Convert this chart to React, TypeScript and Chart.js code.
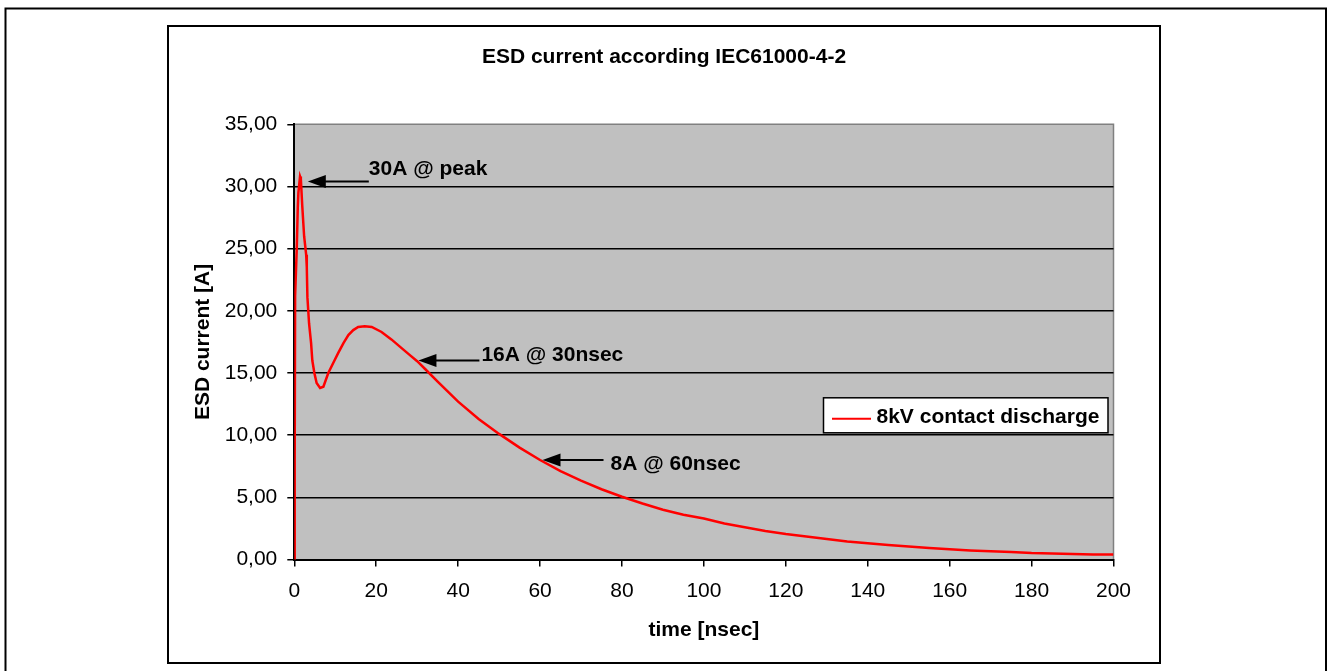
import React, { useEffect, useRef } from 'react';
import { Chart, registerables } from 'chart.js';
Chart.register(...registerables);

// ESD waveform (time in nsec, current in A)
const times = [
  0, 0.1, 0.2, 0.6, 0.85, 1.0, 1.4, 1.6, 1.95, 2.4, 2.9, 3.05, 3.2, 3.6, 4.1, 4.4, 4.9, 5.45,
  6.3, 7.1, 8.3, 9.5, 10.7, 12, 13.2, 14.4, 15.6, 17.2, 18.9, 21.3, 23.7, 26.2, 28, 30, 32,
  35, 40, 45, 50, 55, 60, 65, 70, 75, 80, 85, 90, 95, 100, 105, 110, 115, 120, 125, 130,
  135, 140, 145, 150, 155, 160, 165, 170, 175, 180, 185, 190, 195, 200,
];
const current = [
  0, 8, 21.2, 25, 28.3, 29.5, 30.8, 30.6, 28.4, 26, 24.5, 23.5, 21.1, 19.0, 17.4, 16.0, 15.0, 14.2,
  13.8, 13.9, 15.0, 15.8, 16.6, 17.4, 18.05, 18.45, 18.7, 18.75, 18.7, 18.3, 17.7, 17.0, 16.5, 15.95, 15.3,
  14.3, 12.7, 11.3, 10.1, 9.0, 8.0, 7.1, 6.35, 5.65, 5.05, 4.5, 4.0, 3.6, 3.3, 2.9, 2.6, 2.3, 2.05, 1.85, 1.65,
  1.45, 1.3, 1.17, 1.05, 0.93, 0.82, 0.73, 0.66, 0.6, 0.52, 0.48, 0.44, 0.41, 0.4,
];
const seriesLabel = '8kV contact discharge';

// arrow annotations: text and the point the arrow points at
const noteTexts = ['30A @ peak', '16A @ 30nsec', '8A @ 60nsec'];
const noteTimes = [3.3, 30.3, 60.6];
const noteValues = [30.4, 16.0, 8.0];

const FONT = '"Liberation Sans", Arial, sans-serif';
// pixel offsets of each label from the arrow tail
const noteOffsets = [
  { dx: 0, dy: -6 },
  { dx: 2, dy: 0 },
  { dx: 7, dy: 10 },
];

const framePlugin = {
  id: 'frame',
  beforeDraw(chart: any) {
    const { ctx, chartArea: a } = chart;
    ctx.save();
    ctx.fillStyle = '#fff';
    ctx.fillRect(0, 0, chart.width, chart.height);
    ctx.strokeStyle = '#000';
    ctx.lineWidth = 2;
    ctx.strokeRect(5.5, 8.5, 1320.5, 700);
    ctx.strokeRect(168, 26, 992, 637);
    ctx.fillStyle = '#c0c0c0';
    ctx.fillRect(a.left, a.top, a.right - a.left, a.bottom - a.top);
    ctx.strokeStyle = '#808080';
    ctx.lineWidth = 1.5;
    ctx.beginPath();
    ctx.moveTo(a.left, a.top);
    ctx.lineTo(a.right, a.top);
    ctx.lineTo(a.right, a.bottom);
    ctx.stroke();
    ctx.restore();
  },
  afterDraw(chart: any) {
    const { ctx, chartArea: a } = chart;
    const xs = chart.scales.x;
    const ys = chart.scales.y;
    ctx.save();
    ctx.font = `bold 21px ${FONT}`;
    ctx.fillStyle = '#000';
    ctx.strokeStyle = '#000';
    noteTexts.forEach((txt, i) => {
      const tx = xs.getPixelForValue(noteTimes[i]);
      const ty = ys.getPixelForValue(noteValues[i]);
      const tail = tx + 61;
      ctx.lineWidth = 2;
      ctx.beginPath();
      ctx.moveTo(tx + 16, ty);
      ctx.lineTo(tail, ty);
      ctx.stroke();
      ctx.beginPath();
      ctx.moveTo(tx, ty);
      ctx.lineTo(tx + 18, ty - 6.5);
      ctx.lineTo(tx + 18, ty + 6.5);
      ctx.closePath();
      ctx.fill();
      ctx.textBaseline = 'alphabetic';
      ctx.textAlign = 'left';
      ctx.fillText(txt, tail + noteOffsets[i].dx, ty + noteOffsets[i].dy);
    });

    // legend box
    const ds = chart.data.datasets[0];
    const bx = a.right - 290;
    const by = a.top + 273.5;
    ctx.fillStyle = '#fff';
    ctx.fillRect(bx, by, 284.5, 35);
    ctx.lineWidth = 1.5;
    ctx.strokeRect(bx, by, 284.5, 35);
    ctx.strokeStyle = ds.borderColor;
    ctx.lineWidth = 2;
    ctx.beginPath();
    ctx.moveTo(bx + 8.5, by + 21);
    ctx.lineTo(bx + 47.5, by + 21);
    ctx.stroke();
    ctx.fillStyle = '#000';
    ctx.textBaseline = 'middle';
    ctx.fillText(ds.label, bx + 53, by + 19);
    ctx.restore();
  },
};

export default function App() {
  const canvasRef = useRef<HTMLCanvasElement>(null);
  const chartRef = useRef<Chart | null>(null);

  useEffect(() => {
    if (!canvasRef.current) return;
    if (chartRef.current) chartRef.current.destroy();

    chartRef.current = new Chart(canvasRef.current, {
      type: 'line',
      data: {
        datasets: [{
          label: seriesLabel,
          data: times.map((t, i) => ({ x: t, y: current[i] })),
          borderColor: '#ff0000',
          borderWidth: 2.5,
          pointRadius: 0,
          tension: 0,
          fill: false,
        }],
      },
      options: {
        responsive: false,
        animation: false,
        devicePixelRatio: 1,
        layout: { padding: { left: 168, top: 26, right: 167, bottom: 8.3 } },
        plugins: {
          legend: { display: false },
          tooltip: { enabled: false },
          title: {
            display: true,
            text: 'ESD current according IEC61000-4-2',
            color: '#000',
            font: { family: FONT, size: 21, weight: 'bold' },
            padding: { top: 19, bottom: 54.1 },
          },
        },
        scales: {
          x: {
            type: 'linear',
            min: 0,
            max: 200,
            afterFit: (s: any) => { s.height = 103.2; },
            ticks: {
              stepSize: 20,
              autoSkip: false,
              maxRotation: 0,
              color: '#000',
              padding: 12,
              font: { family: FONT, size: 21 },
            },
            grid: { drawOnChartArea: false, drawTicks: true, tickLength: 7, color: '#000', tickColor: '#000', lineWidth: 1.5 },
            border: { display: true, color: '#000', width: 2 },
            title: {
              display: true,
              text: 'time [nsec]',
              color: '#000',
              font: { family: FONT, size: 21, weight: 'bold' },
              padding: { top: 0, bottom: 20.1 },
            },
          },
          y: {
            min: 0,
            max: 35,
            afterFit: (s: any) => { s.width = 126.3; },
            ticks: {
              stepSize: 5,
              color: '#000',
              padding: 10,
              font: { family: FONT, size: 21 },
              callback: (v: any) => Number(v).toFixed(2).replace('.', ','),
            },
            grid: {
              color: (c: any) => (c.tick && (c.tick.value === 35 || c.tick.value === 0) ? 'rgba(0,0,0,0)' : '#000'),
              tickColor: '#000',
              tickLength: 7,
              lineWidth: 1.5,
            },
            border: { display: true, color: '#000', width: 2 },
            title: {
              display: true,
              text: 'ESD current [A]',
              color: '#000',
              font: { family: FONT, size: 21, weight: 'bold' },
              padding: { top: 22.7, bottom: 0 },
            },
          },
          // empty right-hand spacer so the plot ends where the reference's does
          spacer: {
            type: 'linear',
            position: 'right',
            afterFit: (s: any) => { s.width = 46.5; },
            ticks: { display: false },
            grid: { display: false },
            border: { display: false },
          },
        },
      },
      plugins: [framePlugin],
    } as any);

    return () => {
      if (chartRef.current) {
        chartRef.current.destroy();
        chartRef.current = null;
      }
    };
  }, []);

  return (
    <div style={{ position: 'fixed', left: 0, top: 0, width: 1327, height: 671, background: '#fff' }}>
      <canvas ref={canvasRef} width={1327} height={671}></canvas>
    </div>
  );
}
